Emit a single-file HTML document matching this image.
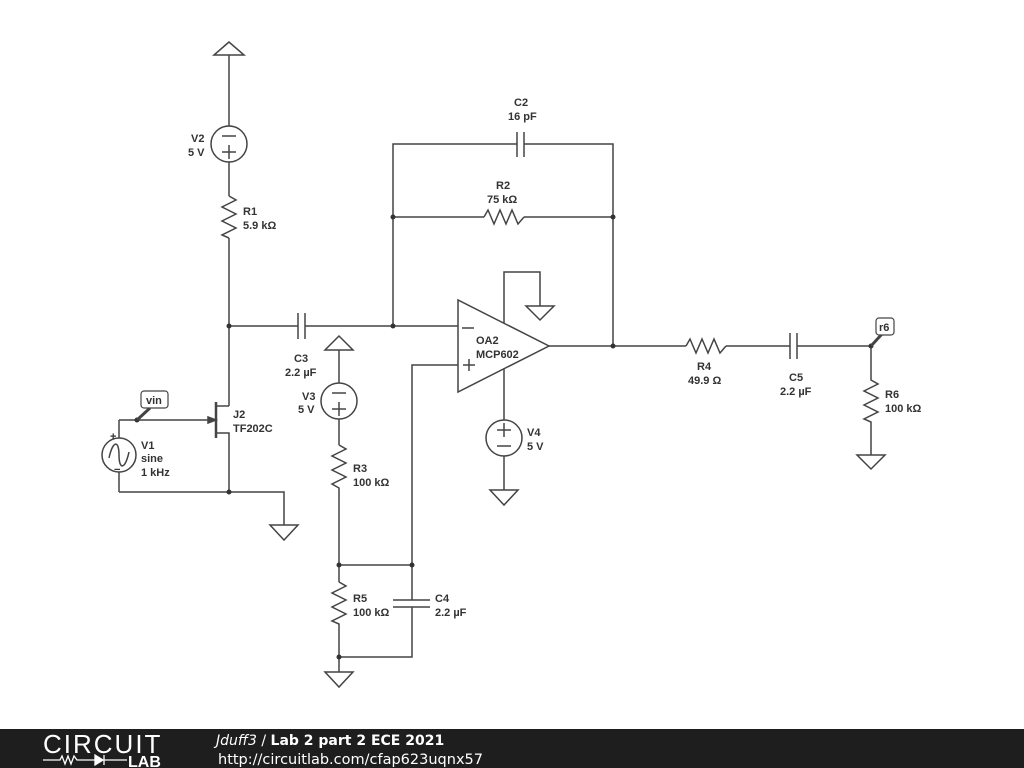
<!DOCTYPE html>
<html><head><meta charset="utf-8"><style>
html,body{margin:0;padding:0;background:#fff;}
svg{display:block;}
text{font-family:"Liberation Sans",sans-serif;font-weight:bold;font-size:11px;fill:#333;}
</style></head><body>
<svg width="1024" height="768" viewBox="0 0 1024 768" xmlns="http://www.w3.org/2000/svg">
<g stroke="#444" stroke-width="1.5" fill="none">
<polygon points="229,42 214,55 244,55"/>
<line x1="229" y1="55" x2="229" y2="126"/>
<circle cx="229" cy="144" r="18"/>
<line x1="222" y1="136" x2="236" y2="136"/><line x1="222" y1="152" x2="236" y2="152"/><line x1="229" y1="145" x2="229" y2="159"/>
<line x1="229" y1="162" x2="229" y2="196"/>
<polyline points="229,196 236,200 222,207 236,214 222,221 236,228 222,235 229,238"/>
<line x1="229" y1="238" x2="229" y2="406"/>
<line x1="216" y1="402" x2="216" y2="438" stroke-width="2.5"/>
<polyline points="216,406 229,406"/><polyline points="216,433 229,433 229,492"/>
<line x1="119" y1="420" x2="216" y2="420"/>
<polygon points="216,420 208,417 208,423" fill="#444"/>
<line x1="119" y1="420" x2="119" y2="438"/>
<circle cx="119" cy="455" r="17"/>
<path d="M109,458 C113,440 119,440 119,455 C119,470 125,470 129,452"/>
<line x1="119" y1="472" x2="119" y2="492"/>
<polyline points="119,492 284,492 284,525"/>
<polygon points="270,525 298,525 284,540"/>
<line x1="229" y1="326" x2="298" y2="326"/>
<line x1="298" y1="313" x2="298" y2="339"/><line x1="305" y1="313" x2="305" y2="339"/>
<line x1="305" y1="326" x2="458" y2="326"/>
<polyline points="393,326 393,144 517,144"/>
<line x1="517" y1="132" x2="517" y2="157"/><line x1="524" y1="132" x2="524" y2="157"/>
<polyline points="524,144 613,144 613,346"/>
<line x1="393" y1="217" x2="484" y2="217"/>
<polyline points="484,217 488,210 494,224 500,210 506,224 512,210 518,224 524,217"/>
<line x1="524" y1="217" x2="613" y2="217"/>
<polygon points="458,300 458,392 549,346"/>
<line x1="462" y1="328" x2="474" y2="328"/>
<line x1="463" y1="365" x2="475" y2="365"/><line x1="469" y1="359" x2="469" y2="371"/>
<polyline points="504,323 504,272 540,272 540,306"/>
<polygon points="526,306 554,306 540,320"/>
<line x1="504" y1="369" x2="504" y2="420"/>
<circle cx="504" cy="438" r="18"/>
<line x1="497" y1="430" x2="511" y2="430"/><line x1="504" y1="423" x2="504" y2="437"/><line x1="497" y1="446" x2="511" y2="446"/>
<line x1="504" y1="456" x2="504" y2="490"/>
<polygon points="490,490 518,490 504,505"/>
<line x1="549" y1="346" x2="686" y2="346"/>
<polyline points="686,346 690,339 696,353 702,339 708,353 714,339 720,353 726,346"/>
<line x1="726" y1="346" x2="790" y2="346"/>
<line x1="790" y1="333" x2="790" y2="359"/><line x1="797" y1="333" x2="797" y2="359"/>
<line x1="797" y1="346" x2="871" y2="346"/>
<polyline points="871,346 871,380 878,384 864,391 878,398 864,405 878,412 864,419 871,422 871,455"/>
<polygon points="857,455 885,455 871,469"/>
<polygon points="339,336 325,350 353,350"/>
<line x1="339" y1="350" x2="339" y2="383"/>
<circle cx="339" cy="401" r="18"/>
<line x1="332" y1="393" x2="346" y2="393"/><line x1="332" y1="409" x2="346" y2="409"/><line x1="339" y1="402" x2="339" y2="416"/>
<line x1="339" y1="419" x2="339" y2="445"/>
<polyline points="339,445 346,449 332,456 346,463 332,470 346,477 332,484 339,488 339,582"/>
<polyline points="339,582 346,586 332,593 346,600 332,607 346,614 332,621 339,624 339,672"/>
<polyline points="339,565 412,565 412,365 458,365"/>
<line x1="412" y1="565" x2="412" y2="600"/>
<line x1="393" y1="600" x2="430" y2="600"/><line x1="393" y1="607" x2="430" y2="607"/>
<polyline points="412,607 412,657 339,657"/>
<polygon points="325,672 353,672 339,687"/>
</g>
<g fill="#333">
<circle cx="229" cy="326" r="2.5"/><circle cx="393" cy="326" r="2.5"/><circle cx="393" cy="217" r="2.5"/>
<circle cx="613" cy="217" r="2.5"/><circle cx="613" cy="346" r="2.5"/><circle cx="871" cy="346" r="2.5"/>
<circle cx="229" cy="492" r="2.5"/><circle cx="137" cy="420" r="2.5"/>
<circle cx="339" cy="565" r="2.5"/><circle cx="412" cy="565" r="2.5"/><circle cx="339" cy="657" r="2.5"/>
</g>
<g stroke="#444" stroke-width="3">
<line x1="137" y1="420" x2="150" y2="408"/><line x1="871" y1="346" x2="882" y2="334"/>
</g>
<rect x="141" y="391" width="27" height="17" rx="3" fill="#fff" stroke="#444" stroke-width="1.2"/>
<text x="146" y="404">vin</text>
<rect x="876" y="318" width="18" height="17" rx="3" fill="#fff" stroke="#444" stroke-width="1.2"/>
<text x="879" y="331">r6</text>
<text x="110" y="440" font-size="10">+</text><text x="114" y="473" font-size="10">−</text>
<text x="191" y="142">V2</text><text x="188" y="156">5 V</text>
<text x="243" y="215">R1</text><text x="243" y="229">5.9 kΩ</text>
<text x="233" y="418">J2</text><text x="233" y="432">TF202C</text>
<text x="141" y="449">V1</text><text x="141" y="462">sine</text><text x="141" y="476">1 kHz</text>
<text x="294" y="362">C3</text><text x="285" y="376">2.2 µF</text>
<text x="302" y="400">V3</text><text x="298" y="413">5 V</text>
<text x="353" y="472">R3</text><text x="353" y="486">100 kΩ</text>
<text x="353" y="602">R5</text><text x="353" y="616">100 kΩ</text>
<text x="435" y="602">C4</text><text x="435" y="616">2.2 µF</text>
<text x="514" y="106">C2</text><text x="508" y="120">16 pF</text>
<text x="496" y="189">R2</text><text x="487" y="203">75 kΩ</text>
<text x="476" y="344">OA2</text><text x="476" y="358">MCP602</text>
<text x="527" y="436">V4</text><text x="527" y="450">5 V</text>
<text x="697" y="370">R4</text><text x="688" y="384">49.9 Ω</text>
<text x="789" y="381">C5</text><text x="780" y="395">2.2 µF</text>
<text x="885" y="398">R6</text><text x="885" y="412">100 kΩ</text>
<rect x="0" y="729" width="1024" height="39" fill="#1e1e1e"/>
<text x="43" y="753" style="font-weight:normal;font-size:26px;fill:#fff;letter-spacing:2px">CIRCUIT</text>
<g stroke="#fff" stroke-width="1.3" fill="none">
<polyline points="43,760 60,760 62,756 65,764 68,756 71,764 74,756 77,760 95,760"/>
<polygon points="95,755 95,765 103,760" fill="#fff"/><line x1="104" y1="755" x2="104" y2="765"/><line x1="104" y1="760" x2="127" y2="760"/>
</g>
<text x="128" y="767" style="font-size:16px;fill:#fff;font-weight:900">LAB</text>
<text x="216" y="745" style="font-size:14px;fill:#fff;font-family:'DejaVu Sans',sans-serif;font-weight:normal"><tspan font-style="italic">Jduff3</tspan> / <tspan font-weight="bold">Lab 2 part 2 ECE 2021</tspan></text>
<text x="218" y="764" style="font-size:14.5px;fill:#fff;font-family:'DejaVu Sans',sans-serif;font-weight:normal">http://circuitlab.com/cfap623uqnx57</text>
</svg>
</body></html>
